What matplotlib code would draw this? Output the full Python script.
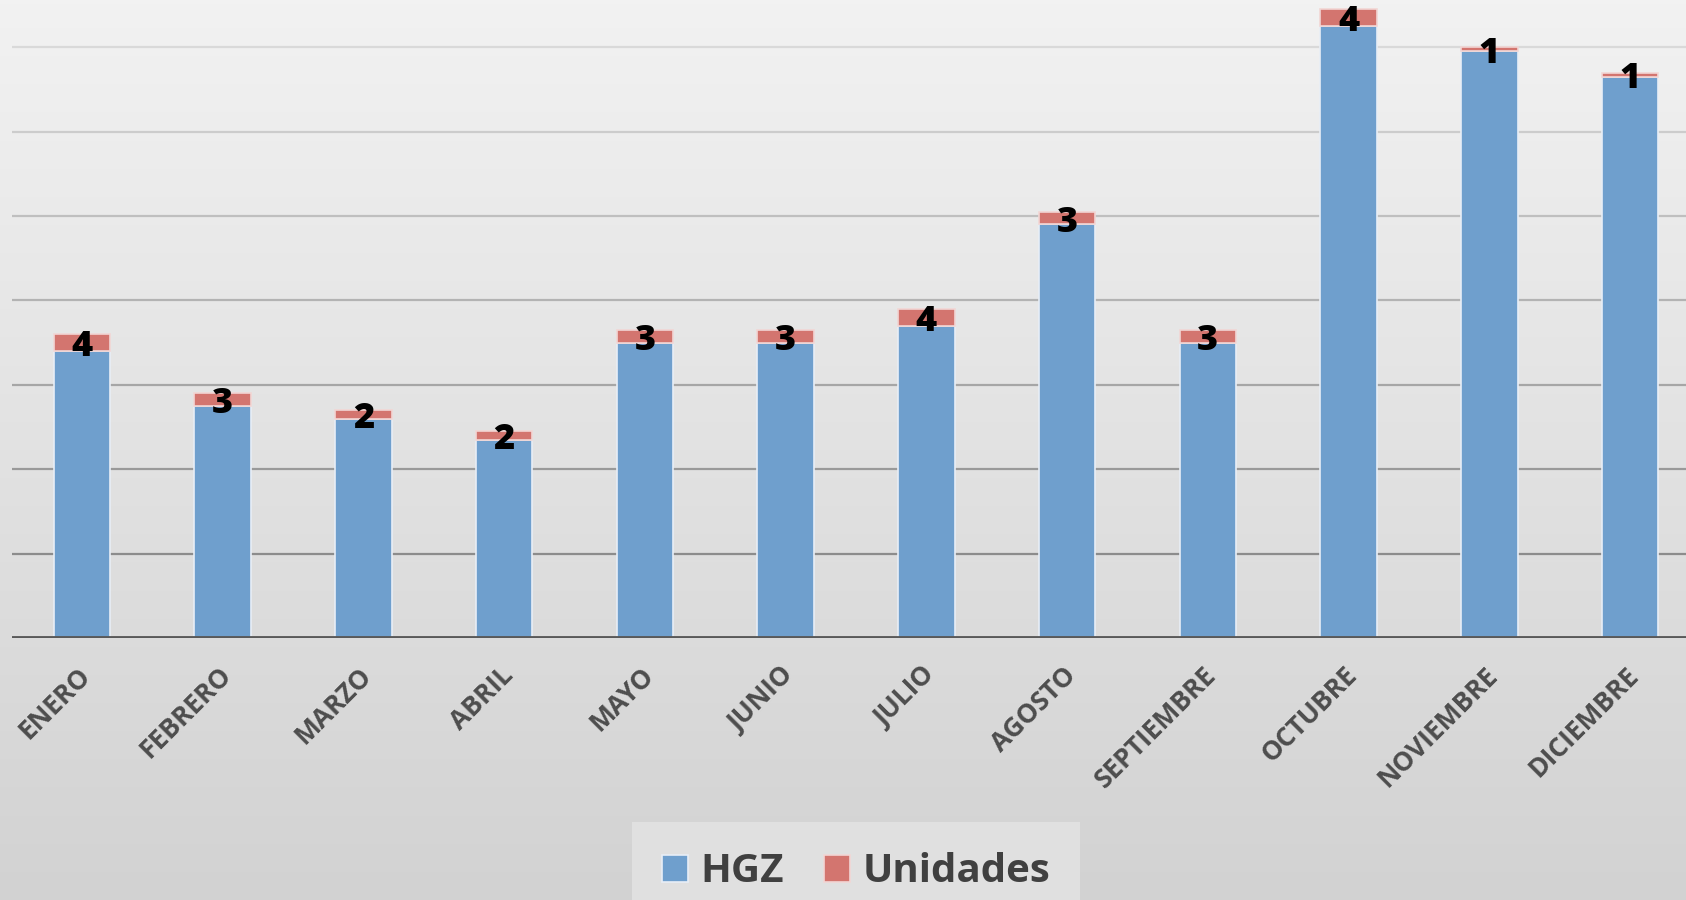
import matplotlib.pyplot as plt
import matplotlib.transforms as mtransforms
import numpy as np
from matplotlib.colors import LinearSegmentedColormap

meses = ['ENERO', 'FEBRERO', 'MARZO', 'ABRIL', 'MAYO', 'JUNIO', 'JULIO',
         'AGOSTO', 'SEPTIEMBRE', 'OCTUBRE', 'NOVIEMBRE', 'DICIEMBRE']
hgz = [68, 55, 52, 47, 70, 70, 74, 98, 70, 145, 139, 133]
unidades = [4, 3, 2, 2, 3, 3, 4, 3, 3, 4, 1, 1]

W, H = 1686, 900
fig = plt.figure(figsize=(W / 100, H / 100), dpi=100)

# fondo degradado gris
bg = fig.add_axes([0, 0, 1, 1], zorder=0)
grad = np.linspace(0, 1, 256).reshape(-1, 1)
cmap = LinearSegmentedColormap.from_list('bg', ['#f2f2f2', '#d2d2d2'])
bg.imshow(grad, aspect='auto', cmap=cmap, extent=[0, 1, 1, 0])
bg.axis('off')

ax = fig.add_axes([11.5 / W, 1 - 638 / H, 1689 / W, 638 / H], zorder=1)
ax.patch.set_alpha(0)

x = np.arange(len(meses))
ax.set_xlim(-0.5, len(meses) - 0.5)
ax.set_ylim(0, 151.2)

# lineas de cuadricula, mas claras hacia arriba
for i, yv in enumerate(range(20, 160, 20)):
    c = 0.55 + 0.3 * i / 6
    ax.axhline(yv, color=(c, c, c), lw=1.6, zorder=1)

ax.bar(x, hgz, width=0.4, color='#6f9fcd', edgecolor='#e8eef6', lw=1.2, zorder=2, label='HGZ')
ax.bar(x, unidades, width=0.4, bottom=hgz, color='#d3756f', edgecolor='#f2d6d4', lw=1.2, zorder=2,
       label='Unidades')

for xi, h, u in zip(x, hgz, unidades):
    ax.text(xi, h + u / 2 - 1.1, str(u), ha='center', va='center', fontsize=26, fontweight=900,
            family='Open Sans', color='black', zorder=3)

ax.axhline(0, color='#595959', lw=3.5, zorder=3)

for s in ax.spines.values():
    s.set_visible(False)
ax.set_yticks([])
ax.set_xticks(x)
ax.set_xticklabels(meses, rotation=45, ha='right', rotation_mode='anchor',
                   fontsize=19, fontweight='bold', family='Open Sans', color='#4d4d4d')
ax.tick_params(axis='x', length=0, pad=17)
shift = mtransforms.ScaledTranslation(-5 / 100, 0, fig.dpi_scale_trans)
for lab in ax.get_xticklabels():
    lab.set_transform(lab.get_transform() + shift)

leg = fig.legend(loc='upper center', bbox_to_anchor=(856 / W, 1 - 822 / H), ncol=2,
                 prop={'family': 'Open Sans', 'weight': 'bold', 'size': 29},
                 handlelength=0.65, handleheight=0.65, handletextpad=0.3, columnspacing=1.0,
                 borderpad=0.75, borderaxespad=0, frameon=True, fancybox=False, framealpha=1)
leg.get_frame().set_facecolor('#e0e0e0')
leg.get_frame().set_edgecolor('none')
for t in leg.get_texts():
    t.set_color('#404040')

fig.savefig('out.png', dpi=100)
